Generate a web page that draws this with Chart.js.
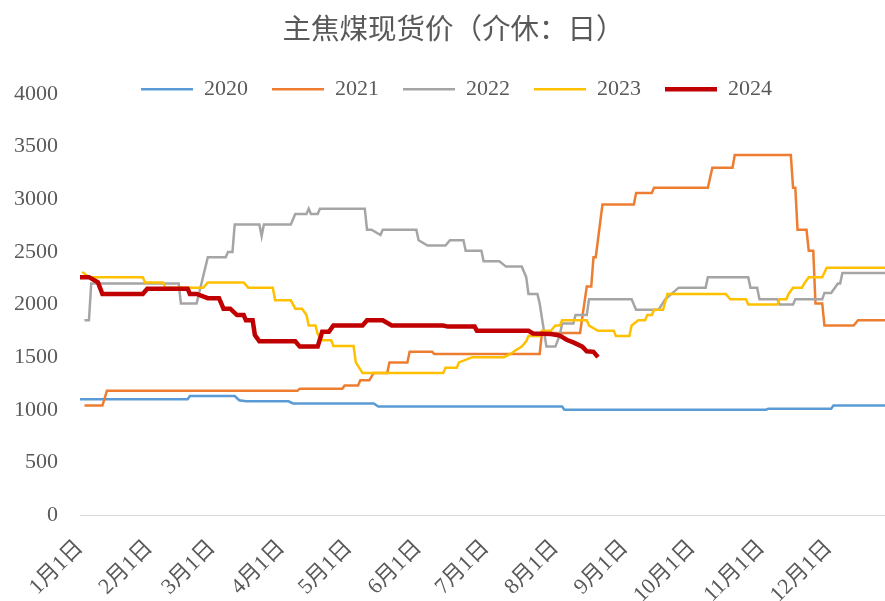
<!DOCTYPE html>
<html>
<head>
<meta charset="utf-8">
<script src="https://cdn.jsdelivr.net/npm/chart.js@4.4.1/dist/chart.umd.min.js"></script>
<style>
  html, body { margin: 0; padding: 0; background: #fff; }
  #chart { display: block; }
</style>
</head>
<body>
<canvas id="chart" width="885" height="601"></canvas>
<script>
// ----- Data -----
// x = day of year (0 = 1月1日), y = price
const monthDays = [0, 31, 59, 90, 120, 151, 181, 212, 243, 273, 304, 334];
const monthLabels = ["1月1日", "2月1日", "3月1日", "4月1日", "5月1日", "6月1日",
  "7月1日", "8月1日", "9月1日", "10月1日", "11月1日", "12月1日"];
const yearLabels = ["2020", "2021", "2022", "2023", "2024"];

const price2020 = [[0,1100],[48,1100],[49,1130],[69,1130],[71,1090],[74,1080],[93,1080],[95,1060],
  [131,1060],[133,1030],[215,1030],[216,1000],[306,1000],[307,1010],[335,1010],[336,1040],[359,1040]];

const price2021 = [[2,1040],[10,1040],[12,1180],[97,1180],[98,1200],[117,1200],[118,1230],[124,1230],
  [125,1280],[129,1280],[131,1350],[137,1350],[138,1450],[146,1450],[147,1550],[157,1550],[158,1530],
  [205,1530],[206,1730],[223,1730],[226,2170],[228,2170],[229,2450],[230,2450],[233,2950],[247,2950],
  [248,3060],[255,3060],[256,3110],[280,3110],[282,3300],[291,3300],[292,3420],[317,3420],[318,3110],
  [319,3110],[320,2710],[324,2710],[325,2510],[327,2510],[328,2010],[331,2010],[332,1800],[345,1800],
  [347,1850],[359,1850]];

const price2022 = [[2,1850],[4,1850],[5,2200],[44,2200],[45,2010],[52,2010],[57,2450],[65,2450],[66,2500],
  [68,2500],[69,2760],[80,2760],[81,2650],[82,2760],[94,2760],[96,2860],[101,2860],[102,2910],[103,2860],
  [106,2860],[107,2910],[127,2910],[128,2710],[130,2710],[134,2660],[135,2710],[150,2710],[151,2610],
  [155,2560],[163,2560],[165,2610],[171,2610],[172,2510],[179,2510],[180,2410],[187,2410],[190,2360],
  [197,2360],[199,2260],[200,2100],[204,2100],[205,2010],[208,1600],[212,1600],[214,1710],[215,1820],
  [220,1820],[221,1900],[226,1900],[227,2050],[246,2050],[248,1950],[258,1950],[261,2050],[267,2160],
  [279,2160],[280,2260],[298,2260],[299,2160],[302,2160],[303,2050],[311,2050],[312,2000],[318,2000],
  [319,2050],[331,2050],[332,2110],[335,2110],[338,2200],[339,2200],[340,2300],[359,2300]];

const price2023 = [[1,2310],[4,2260],[28,2260],[29,2210],[37,2210],[38,2160],[55,2160],[57,2210],[73,2210],
  [75,2160],[86,2160],[87,2040],[94,2040],[96,1960],[99,1960],[101,1900],[102,1800],[105,1800],[106,1720],
  [108,1660],[112,1660],[113,1605],[122,1605],[123,1450],[126,1350],[162,1350],[163,1400],[168,1400],
  [169,1450],[175,1500],[189,1500],[192,1530],[194,1560],[197,1600],[199,1650],[200,1700],[205,1700],
  [206,1750],[210,1750],[212,1800],[214,1800],[215,1850],[226,1850],[227,1800],[231,1750],[238,1750],
  [239,1700],[245,1700],[246,1800],[249,1850],[252,1850],[253,1900],[255,1900],[256,1950],[260,1950],
  [262,2100],[288,2100],[290,2050],[297,2050],[298,2000],[311,2000],[312,2050],[315,2050],[316,2100],
  [318,2160],[322,2160],[323,2200],[325,2260],[331,2260],[333,2350],[359,2350]];

const price2024 = [[0,2260],[4,2260],[8,2210],[10,2100],[28,2100],[30,2150],[48,2150],[49,2100],[52,2100],
  [57,2060],[62,2060],[64,1960],[67,1960],[70,1900],[73,1900],[74,1850],[77,1850],[78,1710],[80,1650],
  [96,1650],[98,1600],[106,1600],[108,1740],[111,1740],[113,1800],[126,1800],[128,1850],[135,1850],
  [139,1800],[162,1800],[164,1790],[176,1790],[177,1750],[200,1750],[202,1725],[210,1720],[214,1705],
  [217,1665],[220,1640],[224,1600],[226,1555],[229,1550],[231,1500]];

const seriesList = [price2020, price2021, price2022, price2023, price2024];
const colors = ["#5B9BD5", "#ED7D31", "#A5A5A5", "#FFC000", "#C00000"];
const widths = [2.5, 2.5, 2.5, 2.5, 4.5];

// ----- Styling helpers -----
const TEXT = "#595959";
const SERIF = "'Liberation Serif', 'Times New Roman', 'Noto Sans CJK SC', serif";

// move title and legend into place (Excel puts the legend over the top of the plot)
const boxShift = {
  id: "boxShift",
  afterLayout(chart) {
    const lg = chart.legend;
    if (lg) {
      lg.left += 14; lg.right += 14;
      lg.top += 9; lg.bottom += 9;
    }
    const tb = chart.titleBlock;
    if (tb) { tb.left += 11; tb.right += 11; }
  }
};

const datasets = seriesList.map((s, i) => ({
  label: yearLabels[i],
  data: s.map(p => ({ x: p[0], y: p[1] })),
  borderColor: colors[i],
  backgroundColor: colors[i],
  borderWidth: widths[i],
  pointRadius: 0,
  pointHoverRadius: 0,
  tension: 0,
  fill: false,
  order: seriesList.length - 1 - i  // 2024 on top
}));

new Chart(document.getElementById("chart"), {
  type: "line",
  data: { datasets },
  plugins: [boxShift],
  options: {
    responsive: false,
    animation: false,
    layout: { padding: 0 },
    plugins: {
      title: {
        display: true,
        text: "主焦煤现货价（介休：日）",
        color: TEXT,
        font: { family: "'Noto Sans CJK SC', sans-serif", size: 28.5, weight: "normal" },
        padding: { top: 11, bottom: 0 }
      },
      legend: {
        position: "top",
        maxHeight: 48.8,
        labels: {
          boxWidth: 52,
          boxHeight: 0,
          padding: 24,
          color: TEXT,
          font: { family: SERIF, size: 22 },
          sort: (a, b) => a.datasetIndex - b.datasetIndex
        }
      },
      tooltip: { enabled: false }
    },
    scales: {
      x: {
        type: "linear",
        min: 0,
        max: 359,
        afterBuildTicks: (scale) => { scale.ticks = monthDays.map(v => ({ value: v })); },
        afterFit: (scale) => { scale.height = 86; },
        grid: { display: false, drawTicks: false },
        border: { display: true, color: "#D9D9D9", width: 1 },
        ticks: {
          autoSkip: false,
          maxRotation: 45,
          minRotation: 45,
          padding: 20,
          color: TEXT,
          font: { family: SERIF, size: 22 },
          callback: (v) => {
            const i = monthDays.indexOf(v);
            return i >= 0 ? monthLabels[i] : "";
          }
        }
      },
      y: {
        min: 0,
        max: 4000,
        afterFit: (scale) => { scale.width = 80; },
        grid: { display: false, drawTicks: false },
        border: { display: false },
        ticks: {
          stepSize: 500,
          padding: 22,
          color: TEXT,
          font: { family: SERIF, size: 22 },
          callback: (v) => String(v)
        }
      }
    }
  }
});
</script>
</body>
</html>
